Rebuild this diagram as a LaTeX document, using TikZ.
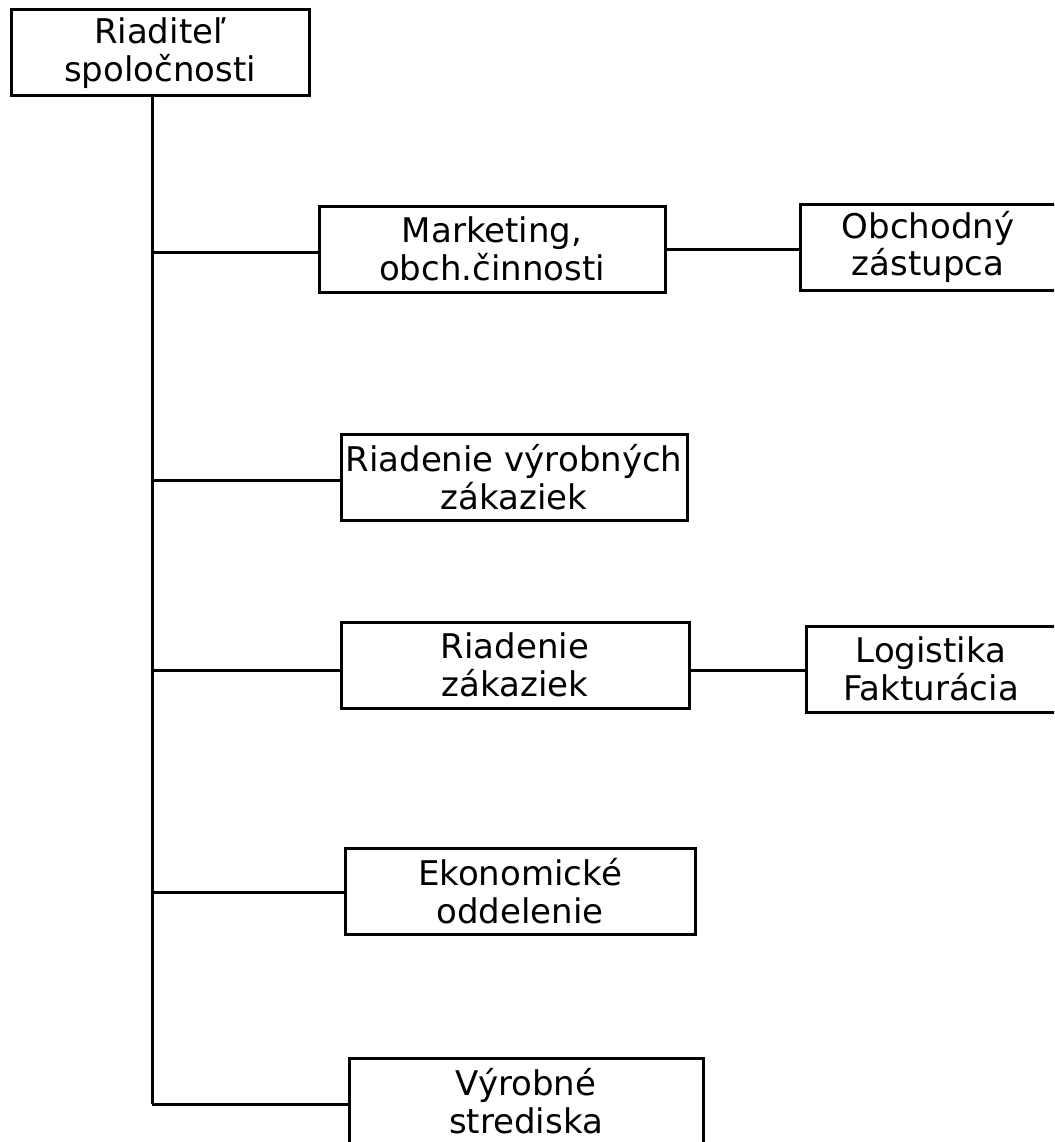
\documentclass[tikz,border=0pt]{standalone}
\usepackage{fontspec}
\setmainfont{DejaVu Sans}
\begin{document}
\begin{tikzpicture}[x=1pt,y=-1pt,
  orgbox/.style={draw=black,line width=3pt,fill=white,inner sep=0pt,align=center,
    font=\fontsize{34}{37.5}\selectfont},
  link/.style={draw=black,line width=3pt}]
\useasboundingbox (0,0) rectangle (1054,1142);
\begin{scope}
\clip (0,0) rectangle (1054,1142);
\node[orgbox,minimum width=298pt,minimum height=86pt] (dir) at (160,53) {Riaditeľ\\spoločnosti};
\node[orgbox,minimum width=346pt,minimum height=86pt] (mkt) at (492,249) {Marketing,\\obch.činnosti};
\node[orgbox,minimum width=256pt,minimum height=86pt] (obch) at (928,247) {Obchodný\\zástupca};
\node[orgbox,minimum width=346pt,minimum height=86pt] (rvz) at (514,477) {Riadenie výrobných\\zákaziek};
\node[orgbox,minimum width=348pt,minimum height=86pt] (rz) at (515,665) {Riadenie\\zákaziek};
\node[orgbox,minimum width=250pt,minimum height=86pt] (log) at (931,669) {Logistika\\Fakturácia};
\node[orgbox,minimum width=350pt,minimum height=86pt] (eko) at (520,891) {Ekonomické\\oddelenie};
\node[orgbox,minimum width=354pt,minimum height=86pt] (vyr) at (526,1101) {Výrobné\\strediska};
\coordinate (j1) at (152,252);
\coordinate (j2) at (152,480);
\coordinate (j3) at (152,670);
\coordinate (j4) at (152,892);
\coordinate (j5) at (152,1104);
\draw[link] (dir.south -| j1) -- (j5);
\draw[link] (j1) -- (j1 -| mkt.west);
\draw[link] (j2) -- (j2 -| rvz.west);
\draw[link] (j3) -- (j3 -| rz.west);
\draw[link] (j4) -- (j4 -| eko.west);
\draw[link] (j5) -- (j5 -| vyr.west);
\draw[link] (mkt.east) -- (obch.west |- mkt.east);
\draw[link] (rz.east |- 0,670) -- (log.west |- 0,670);
\end{scope}
\end{tikzpicture}
\end{document}
